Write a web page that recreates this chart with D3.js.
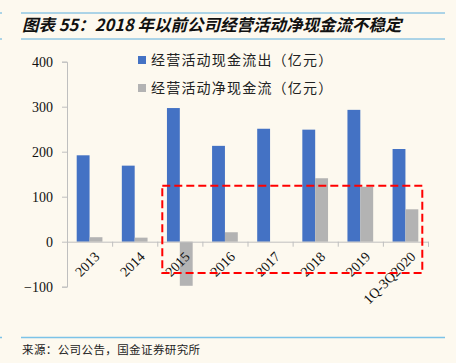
<!DOCTYPE html>
<html><head><meta charset="utf-8">
<script src="https://cdn.jsdelivr.net/npm/d3@7"></script>
<style>
body{margin:0;background:#fdf9ef;}
svg{display:block;}
</style></head>
<body><svg id="c" width="456" height="363"></svg>
<script>
const categories = ["2013","2014","2015","2016","2017","2018","2019","1Q-3Q2020"];
const outflow = [192, 169, 297, 213, 251, 249, 293, 206];
const netflow = [10, 9, -98, 21, 0, 141, 122, 72];
const seriesNames = ["经营活动现金流出（亿元）","经营活动净现金流（亿元）"];
const colors = ["#4472c4","#b3b3b3"];
const yTicks = [-100, 0, 100, 200, 300, 400];
const title = "图表 55：2018 年以前公司经营活动净现金流不稳定";
const source = "来源：公司公告，国金证券研究所";

const svg = d3.select("#c");
const rule = "#5aaede";
[13,39].forEach(y=>{
  svg.append("line").attr("x1",21).attr("x2",445).attr("y1",y).attr("y2",y).attr("stroke",rule).attr("stroke-width",1);
  svg.append("line").attr("x1",0).attr("x2",2).attr("y1",y).attr("y2",y).attr("stroke",rule).attr("stroke-width",1);
});
svg.append("line").attr("x1",21).attr("x2",445).attr("y1",337.5).attr("y2",337.5).attr("stroke","#7cc3e8").attr("stroke-width",1.5);
svg.append("line").attr("x1",0).attr("x2",2).attr("y1",337.5).attr("y2",337.5).attr("stroke","#7cc3e8").attr("stroke-width",1.5);

svg.append("text").attr("x",22).attr("y",31).text(title)
  .attr("font-family","'Noto Sans CJK SC', sans-serif").attr("font-weight","bold").attr("font-style","italic")
  .attr("font-size",16.5).attr("fill","#111");
svg.append("text").attr("x",22).attr("y",354).text(source)
  .attr("font-family","'Noto Sans CJK SC', sans-serif").attr("font-size",11.5).attr("letter-spacing",0.4).attr("fill","#222");

const x0 = 67, x1 = 428;
const x = d3.scaleBand().domain(categories).range([x0, x1]).paddingInner(0.43).paddingOuter(0.215);
const xs = d3.scaleBand().domain([0,1]).range([0, x.bandwidth()]);
const y = d3.scaleLinear().domain([-100, 400]).range([286.7, 61.7]);

const ya = svg.append("g").attr("transform",`translate(${x0},0)`)
  .call(d3.axisLeft(y).tickValues(yTicks).tickSize(5).tickPadding(9).tickFormat(d3.format("d")));
ya.select(".domain").attr("stroke","#bfbfbf");
ya.selectAll(".tick line").attr("stroke","#bfbfbf");
ya.selectAll("text").attr("font-family","'Liberation Serif', serif").attr("font-size",14).attr("fill","#111");

const g = svg.append("g");
categories.forEach((c,i)=>{
  [outflow[i], netflow[i]].forEach((v,k)=>{
    g.append("rect").attr("x", x(c)+xs(k)).attr("width", xs.bandwidth())
      .attr("y", y(Math.max(0,v))).attr("height", Math.abs(y(v)-y(0))).attr("fill", colors[k]);
  });
});

const xa = svg.append("g").attr("transform",`translate(0,${y(0)})`)
  .call(d3.axisBottom(d3.scaleLinear().domain([0,8]).range([x0,x1])).tickValues(d3.range(9)).tickSize(5).tickFormat(""));
xa.select(".domain").attr("stroke","#bfbfbf");
xa.selectAll(".tick line").attr("stroke","#bfbfbf");
categories.forEach(c=>{
  svg.append("text").attr("transform",`translate(${x(c)+x.bandwidth()/2+4},${y(0)+9}) rotate(-45)`)
    .attr("text-anchor","end").attr("dy","0.7em").text(c)
    .attr("font-family","'Liberation Serif', serif").attr("font-size",14).attr("fill","#111");
});

svg.append("rect").attr("x",162.3).attr("y",185.7).attr("width",260).attr("height",87.3)
  .attr("fill","none").attr("stroke","#ff0000").attr("stroke-width",2).attr("stroke-dasharray","8,4");

seriesNames.forEach((n,k)=>{
  const ly = 60 + k*28;
  svg.append("rect").attr("x",138).attr("y",ly-4).attr("width",8).attr("height",8).attr("fill",colors[k]);
  svg.append("text").attr("x",151).attr("y",ly).attr("dy","0.35em").text(n)
    .attr("font-family","'Noto Sans CJK SC', sans-serif").attr("font-size",14).attr("letter-spacing",1.2).attr("fill","#222");
});
</script></body></html>
